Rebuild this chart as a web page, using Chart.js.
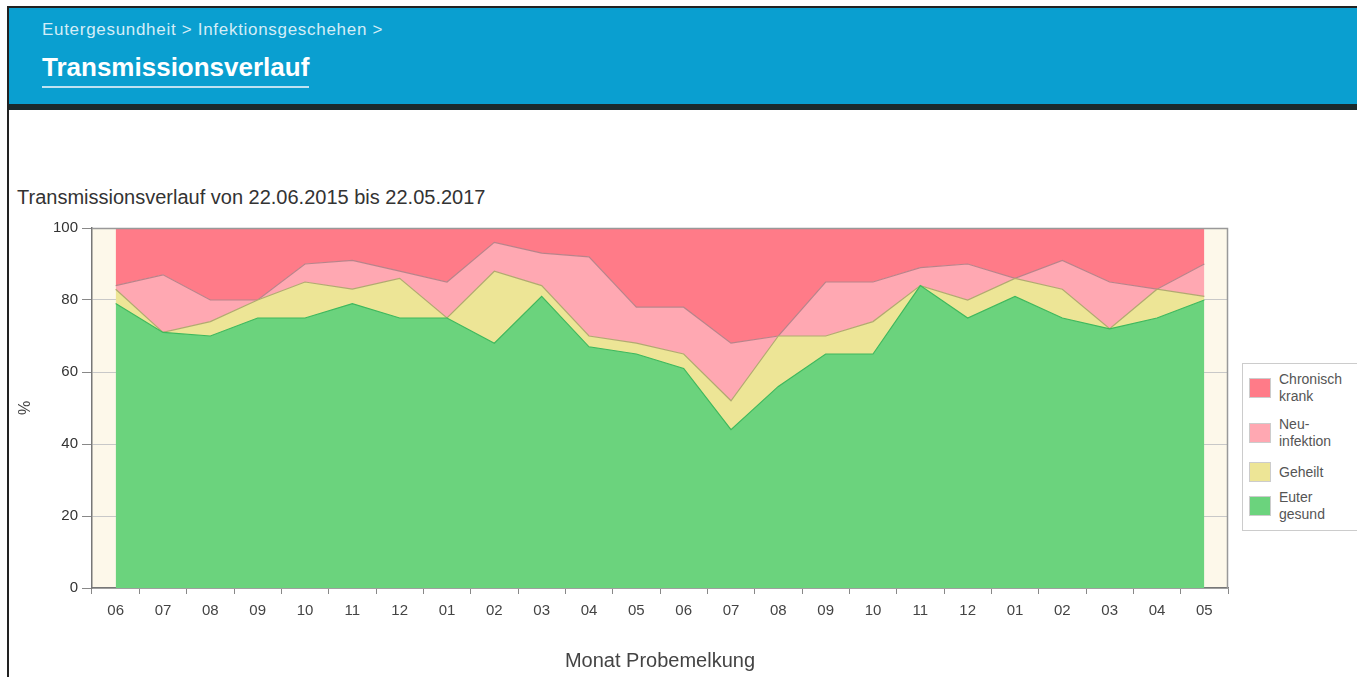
<!DOCTYPE html>
<html lang="de">
<head>
    <meta charset="UTF-8">
    <title>Transmissionsverlauf</title>
    <script src="https://cdn.jsdelivr.net/npm/chart.js@4.4.1/dist/chart.umd.min.js"></script>
    <style>
        body { margin: 0; width: 1357px; height: 677px; overflow: hidden; background: #fff; font-family: "Liberation Sans", Arial, sans-serif; position: relative; }
        .frame { position: absolute; left: 7px; top: 6px; width: 2px; height: 671px; background: #222; }
        .header { position: absolute; left: 9px; top: 6px; right: 0; height: 96px; background: #0a9fd0; border-top: 2px solid #222; border-bottom: 6px solid #1b2a2c; }
        .crumb { position: absolute; left: 33px; top: 12px; font-size: 17px; letter-spacing: 0.7px; color: #d4edf7; }
        .title { position: absolute; left: 33px; top: 44px; font-size: 26px; font-weight: bold; color: #fff; padding-bottom: 3px; border-bottom: 2px solid #bfe3f2; }
        .chart-title { position: absolute; left: 17px; top: 186px; font-size: 20px; color: #333; }
        .chart-box { position: absolute; left: 0; top: 215px; width: 1240px; height: 462px; }
        .legend { position: absolute; left: 1242px; top: 363px; width: 120px; height: 166px; border: 1px solid #ccc; font-size: 14px; color: #555; }
        .legend div { position: absolute; left: 36px; line-height: 17px; }
        .legend span { position: absolute; left: 6px; width: 22px; height: 20px; border: 1px solid #ccc; box-sizing: border-box; }
    </style>
</head>
<body>
    <div class="frame"></div>
    <div class="header">
        <div class="crumb">Eutergesundheit &gt; Infektionsgeschehen &gt;</div>
        <div class="title">Transmissionsverlauf</div>
    </div>
    <div class="chart-title">Transmissionsverlauf von 22.06.2015 bis 22.05.2017</div>
    <div class="chart-box"><canvas id="chart"></canvas></div>
    <div class="legend" id="legend"></div>
    <script>
        // Monate Juni 2015 bis Mai 2017
        const months = ['06','07','08','09','10','11','12','01','02','03','04','05',
                        '06','07','08','09','10','11','12','01','02','03','04','05'];

        // Anteile in % (gestapelt: gesund unten, chronisch oben)
        const euterGesund = [79,71,70,75,75,79,75,75,68,81,67,65,61,44,56,65,65,84,75,81,75,72,75,80];
        const geheilt     = [4,0,4,5,10,4,11,0,20,3,3,3,4,8,14,5,9,0,5,5,8,0,8,1];
        const neuinfektion= [1,16,6,0,5,8,2,10,8,9,22,10,13,16,0,15,11,5,10,0,8,13,0,9];
        const chronisch   = [16,13,20,20,10,9,12,15,4,7,8,22,22,32,30,15,15,11,10,14,9,15,17,10];

        const yTicks = [0, 20, 40, 60, 80, 100];

        const series = [
            { label: 'Euter gesund', lines: ['Euter', 'gesund'], data: euterGesund, color: '#6bd37d', line: '#3fb85c' },
            { label: 'Geheilt', lines: ['Geheilt'], data: geheilt, color: '#ede596', line: '#b2a970' },
            { label: 'Neuinfektion', lines: ['Neu-', 'infektion'], data: neuinfektion, color: '#ffa8b2', line: '#b9838a' },
            { label: 'Chronisch krank', lines: ['Chronisch', 'krank'], data: chronisch, color: '#ff7b88', line: '#c86b76' }
        ];

        // Legende (oben = Chronisch krank), Mittelpunkte der Einträge
        const legend = document.getElementById('legend');
        const legendMid = [24, 69, 108, 142];
        series.slice().reverse().forEach((s, i) => {
            const sw = document.createElement('span');
            sw.style.top = (legendMid[i] - 10) + 'px';
            sw.style.background = s.color;
            legend.appendChild(sw);
            const t = document.createElement('div');
            t.style.top = (legendMid[i] - s.lines.length * 8.5) + 'px';
            t.innerHTML = s.lines.join('<br>');
            legend.appendChild(t);
        });

        const areaPlugin = {
            id: 'areaBox',
            beforeDraw(chart) {
                const { ctx, chartArea: a } = chart;
                ctx.save();
                ctx.fillStyle = '#fdf8ea';
                ctx.fillRect(a.left, a.top, a.right - a.left, a.bottom - a.top);
                ctx.restore();
            },
            afterDraw(chart) {
                const { ctx, chartArea: a } = chart;
                ctx.save();
                ctx.strokeStyle = '#999';
                ctx.lineWidth = 1.5;
                ctx.beginPath();
                ctx.moveTo(a.left, a.top + 0.5);
                ctx.lineTo(a.right - 0.5, a.top + 0.5);
                ctx.lineTo(a.right - 0.5, a.bottom);
                ctx.stroke();
                ctx.restore();
            }
        };

        new Chart(document.getElementById('chart'), {
            type: 'line',
            data: {
                labels: months,
                datasets: series.map((s, i) => ({
                    label: s.label,
                    data: s.data,
                    backgroundColor: s.color,
                    borderColor: s.line,
                    borderWidth: 1.2,
                    pointRadius: 0,
                    tension: 0,
                    fill: i === 0 ? 'origin' : '-1'
                }))
            },
            options: {
                responsive: true,
                maintainAspectRatio: false,
                animation: false,
                layout: { padding: { top: 12, right: 12, left: 0, bottom: 0 } },
                plugins: {
                    legend: { display: false },
                    tooltip: { enabled: false }
                },
                scales: {
                    x: {
                        offset: true,
                        grid: { offset: true, drawOnChartArea: false, tickLength: 6, color: '#888' },
                        border: { color: '#777', width: 1.5 },
                        ticks: { color: '#444', font: { size: 15 }, padding: 8, maxRotation: 0, autoSkip: false },
                        title: { display: true, text: 'Monat Probemelkung', color: '#444', font: { size: 20 }, padding: { top: 10 } },
                        afterFit(scale) { scale.height = 89; }
                    },
                    y: {
                        stacked: true,
                        min: 0,
                        max: 100,
                        afterBuildTicks(scale) { scale.ticks = yTicks.map(v => ({ value: v })); },
                        grid: { color: '#c8c8c8', tickLength: 10, tickColor: '#888' },
                        border: { color: '#777', width: 1.5 },
                        ticks: { color: '#333', font: { size: 15 }, padding: 4 },
                        title: { display: true, text: '%', color: '#444', font: { size: 16 }, padding: { top: 16, bottom: 0 } },
                        afterFit(scale) { scale.width = 92; }
                    }
                }
            },
            plugins: [areaPlugin]
        });
    </script>
</body>
</html>
